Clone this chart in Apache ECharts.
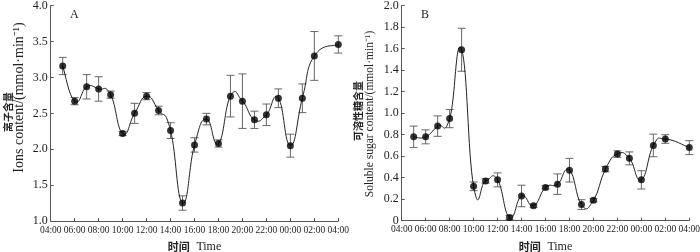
<!DOCTYPE html>
<html>
<head>
<meta charset="utf-8">
<script src="https://cdn.jsdelivr.net/npm/echarts@6/dist/echarts.min.js"></script>
<style>html,body{margin:0;padding:0;background:#fff}#c{width:700px;height:252px}</style>
</head>
<body>
<div id="c"></div>
<script>
// ---- data ----
var times = ["05:00","06:00","07:00","08:00","09:00","10:00","11:00","12:00","13:00","14:00","15:00","16:00","17:00","18:00","19:00","20:00","21:00","22:00","23:00","00:00","01:00","02:00","04:00"];
var ionsMean = [3.16,2.67,2.87,2.84,2.76,2.22,2.50,2.74,2.54,2.26,1.25,2.06,2.42,2.08,2.74,2.67,2.41,2.48,2.71,2.05,2.71,3.30,3.46];
var ionsErr  = [0.12,0.05,0.17,0.17,0.05,0.03,0.14,0.05,0.06,0.11,0.10,0.10,0.08,0.05,0.29,0.38,0.12,0.15,0.13,0.16,0.20,0.34,0.12];
var sugarMean = [0.78,0.78,0.88,0.95,1.59,0.32,0.37,0.38,0.03,0.23,0.14,0.31,0.34,0.47,0.15,0.19,0.48,0.62,0.58,0.38,0.70,0.76,0.68];
var sugarErr  = [0.10,0.065,0.095,0.085,0.20,0.04,0.02,0.065,0.02,0.10,0.015,0.015,0.095,0.11,0.045,0.015,0.025,0.03,0.06,0.085,0.105,0.04,0.065];
var xTickLabels = ["04:00","06:00","08:00","10:00","12:00","14:00","16:00","18:00","20:00","22:00","00:00","02:00","04:00"];
var panelLabels = ["A","B"];
var yTitlesCN = ["离子含量","可溶性糖含量"];
var yTitlesEN = ["Ions content/(mmol·min⁻¹)","Soluble sugar content/(mmol·min⁻¹)"];
var xTitleCN = "时间", xTitleEN = "Time";

// ---- helpers ----
function toHour(t){ var h = parseInt(t.split(":")[0],10); return h < 5 ? h + 24 : h; }
var hours = times.map(toHour);
function pts(m){ return m.map(function(v,i){ return [hours[i], v]; }); }
function errs(m,e){ return m.map(function(v,i){ return [hours[i], v - e[i], v + e[i]]; }); }

var serif = '"Liberation Serif","Times New Roman",serif';
var cjk = '"Noto Sans CJK SC",sans-serif';
var axisCol = '#555';
var txtCol = '#222';
var TENSION = 0.25;

function xAxisCfg(gi){
  return {
    gridIndex: gi, type:'value', min:4, max:28, interval:2,
    axisLine:{lineStyle:{color:axisCol,width:1}},
    axisTick:{inside:true,length:3,lineStyle:{color:axisCol}},
    splitLine:{show:false},
    axisLabel:{color:txtCol,fontFamily:serif,fontSize:9.5,margin:4,
      formatter:function(v){ return xTickLabels[Math.round((v-4)/2)]; }},
    name: '{cn|'+xTitleCN+'}  {en|'+xTitleEN+'}',
    nameLocation:'middle', nameGap:20,
    nameTextStyle:{rich:{cn:{fontFamily:cjk,fontSize:11,fontWeight:'bold',color:txtCol},en:{fontFamily:serif,fontSize:12,color:txtCol}}}
  };
}
function yAxisCfg(gi,min,max,intv){
  return {
    gridIndex: gi, type:'value', min:min, max:max, interval:intv,
    axisLine:{show:true,lineStyle:{color:axisCol,width:1}},
    axisTick:{show:true,inside:true,length:3,lineStyle:{color:axisCol}},
    splitLine:{show:false},
    axisLabel:{color:txtCol,fontFamily:serif,fontSize:12,margin:3,
      formatter:function(v){ return Math.abs(v)<1e-9 ? '0' : v.toFixed(1); }}
  };
}
function errSeries(gi,data){
  return {
    type:'custom', xAxisIndex:gi, yAxisIndex:gi, data:data, z:1, silent:true,
    renderItem:function(params,api){
      var x = api.value(0);
      var lo = api.coord([x, api.value(1)]);
      var hi = api.coord([x, api.value(2)]);
      var w = 4;
      var st = {stroke:'#666',lineWidth:1};
      return {type:'group',children:[
        {type:'line',shape:{x1:lo[0],y1:lo[1],x2:hi[0],y2:hi[1]},style:st},
        {type:'line',shape:{x1:lo[0]-w,y1:lo[1],x2:lo[0]+w,y2:lo[1]},style:st},
        {type:'line',shape:{x1:hi[0]-w,y1:hi[1],x2:hi[0]+w,y2:hi[1]},style:st}
      ]};
    }
  };
}
// smooth curve: each item draws the segment from point i to point i+1 (cardinal spline in pixel space)
function curveSeries(gi,mean){
  return {
    type:'custom', xAxisIndex:gi, yAxisIndex:gi, data:pts(mean), z:2, silent:true,
    renderItem:function(params,api){
      var i = params.dataIndex, n = mean.length;
      if (i >= n-1) return null;
      function P(j){ j = Math.max(0, Math.min(n-1, j)); return api.coord([hours[j], mean[j]]); }
      var p0 = P(i-1), p1 = P(i), p2 = P(i+1), p3 = P(i+2);
      var c1 = [p1[0] + (p2[0]-p0[0])*TENSION, p1[1] + (p2[1]-p0[1])*TENSION];
      var c2 = [p2[0] - (p3[0]-p1[0])*TENSION, p2[1] - (p3[1]-p1[1])*TENSION];
      return {type:'bezierCurve', shape:{x1:p1[0],y1:p1[1],x2:p2[0],y2:p2[1],cpx1:c1[0],cpy1:c1[1],cpx2:c2[0],cpy2:c2[1]},
        style:{stroke:'#222',lineWidth:1,fill:null}};
    }
  };
}
function pointSeries(gi,mean){
  return {
    type:'scatter', xAxisIndex:gi, yAxisIndex:gi, data:pts(mean), z:3,
    symbol:'circle', symbolSize:7, itemStyle:{color:'#000'}
  };
}

var chart = echarts.init(document.getElementById('c'), null, {renderer:'canvas'});
chart.setOption({
  animation:false,
  backgroundColor:'#fff',
  grid:[
    {left:50.7, top:5.7, width:287.6, height:215.3, containLabel:false, outerBoundsMode:'none'},
    {left:401.7, top:5.7, width:287.6, height:215, containLabel:false, outerBoundsMode:'none'}
  ],
  xAxis:[xAxisCfg(0), xAxisCfg(1)],
  yAxis:[yAxisCfg(0,1.0,4.0,0.5), yAxisCfg(1,0,2.0,0.2)],
  series:[
    errSeries(0, errs(ionsMean, ionsErr)),
    curveSeries(0, ionsMean),
    pointSeries(0, ionsMean),
    errSeries(1, errs(sugarMean, sugarErr)),
    curveSeries(1, sugarMean),
    pointSeries(1, sugarMean)
  ],
  graphic:[
    {type:'text', left:70, top:9, style:{text:panelLabels[0], font:'12px '+serif, fill:txtCol}},
    {type:'text', left:421, top:9, style:{text:panelLabels[1], font:'12px '+serif, fill:txtCol}},
    {type:'text', x:8, y:112, rotation:Math.PI/2, style:{text:yTitlesCN[0], font:'bold 10px '+cjk, fill:txtCol, align:'center', verticalAlign:'middle'}},
    {type:'text', x:19.5, y:97.5, rotation:Math.PI/2, style:{text:yTitlesEN[0], font:'14px '+serif, fill:txtCol, align:'center', verticalAlign:'middle'}},
    {type:'text', x:358, y:111, rotation:Math.PI/2, style:{text:yTitlesCN[1], font:'bold 10px '+cjk, fill:txtCol, align:'center', verticalAlign:'middle'}},
    {type:'text', x:370, y:114, rotation:Math.PI/2, style:{text:yTitlesEN[1], font:'11.5px '+serif, fill:txtCol, align:'center', verticalAlign:'middle'}}
  ]
});
</script>
</body>
</html>
